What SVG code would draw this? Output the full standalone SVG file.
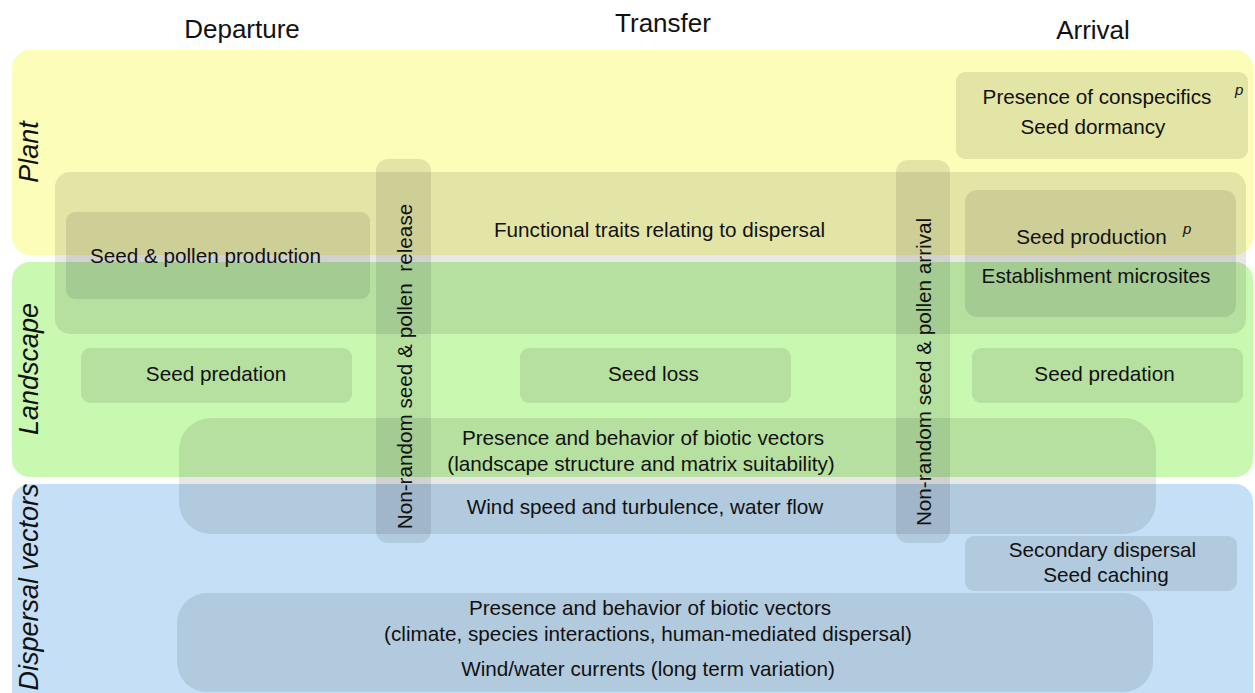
<svg xmlns="http://www.w3.org/2000/svg" width="1255" height="693" viewBox="0 0 1255 693">
<style>
text{font-family:"Liberation Sans",Arial,sans-serif;fill:#111;}
.h{font-size:26px;text-anchor:middle;}
.t{font-size:20.7px;text-anchor:middle;}
.lab{font-size:27px;font-style:italic;text-anchor:middle;}
.sup{font-size:15px;font-style:italic;}
.box{fill:#000;fill-opacity:0.095;}
</style>
<rect width="1255" height="693" fill="#fff"/>
<g id="headers">
<text class="h" x="242" y="38">Departure</text>
<text class="h" x="663" y="32">Transfer</text>
<text class="h" x="1093" y="39">Arrival</text>
</g>
<g id="band-plant">
<rect x="12" y="50" width="1241" height="205" rx="18" fill="#fbfdb8"/>
<text class="lab" transform="translate(38,152) rotate(-90)">Plant</text>
</g>
<g id="band-landscape">
<rect x="12" y="262" width="1241" height="215" rx="18" fill="#c9f8b1"/>
<text class="lab" transform="translate(38,369) rotate(-90)">Landscape</text>
</g>
<g id="band-vectors">
<rect x="12" y="484" width="1241" height="230" rx="18" fill="#c5dff6"/>
<text class="lab" transform="translate(38,587) rotate(-90)">Dispersal vectors</text>
</g>
<g id="functional-traits">
<rect class="box" x="55" y="172" width="1191" height="162" rx="15"/>
<text class="t" x="659.5" y="237">Functional traits relating to dispersal</text>
</g>
<g id="seed-pollen-production">
<rect class="box" x="66" y="212" width="304" height="87" rx="9"/>
<text class="t" x="205.5" y="263">Seed &amp; pollen production</text>
</g>
<g id="conspecifics">
<rect class="box" x="956" y="72" width="292" height="87" rx="9"/>
<text class="t" x="1097" y="104">Presence of conspecifics</text>
<text class="sup" x="1235" y="95">p</text>
<text class="t" x="1093" y="134">Seed dormancy</text>
</g>
<g id="seed-production">
<rect class="box" x="965" y="190" width="271" height="127" rx="12"/>
<text class="t" x="1091.5" y="244">Seed production</text>
<text class="sup" x="1183" y="234">p</text>
<text class="t" x="1096" y="283">Establishment microsites</text>
</g>
<g id="seed-predation-dep">
<rect class="box" x="81" y="348" width="271" height="55" rx="9"/>
<text class="t" x="216" y="381">Seed predation</text>
</g>
<g id="seed-loss">
<rect class="box" x="520" y="348" width="271" height="55" rx="9"/>
<text class="t" x="653.5" y="381">Seed loss</text>
</g>
<g id="seed-predation-arr">
<rect class="box" x="972" y="348" width="271" height="55" rx="9"/>
<text class="t" x="1104.5" y="381">Seed predation</text>
</g>
<g id="biotic-landscape">
<rect class="box" x="179" y="418" width="977" height="116" rx="32"/>
<text class="t" x="643" y="445">Presence and behavior of biotic vectors</text>
<text class="t" x="641" y="471">(landscape structure and matrix suitability)</text>
<text class="t" x="645" y="514">Wind speed and turbulence, water flow</text>
</g>
<g id="secondary-dispersal">
<rect class="box" x="965" y="536" width="272" height="55" rx="9"/>
<text class="t" x="1102.5" y="557">Secondary dispersal</text>
<text class="t" x="1106" y="582">Seed caching</text>
</g>
<g id="biotic-long-term">
<rect class="box" x="177" y="593" width="976" height="99" rx="30"/>
<text class="t" x="650" y="615">Presence and behavior of biotic vectors</text>
<text class="t" x="648" y="641">(climate, species interactions, human-mediated dispersal)</text>
<text class="t" x="648" y="676">Wind/water currents (long term variation)</text>
</g>
<g id="release-bar">
<rect class="box" x="376" y="159" width="55" height="384" rx="12"/>
<text class="t" transform="translate(412,366.5) rotate(-90)" xml:space="preserve">Non-random seed &amp; pollen  release</text>
</g>
<g id="arrival-bar">
<rect class="box" x="896" y="160" width="54" height="383" rx="12"/>
<text class="t" transform="translate(931,372) rotate(-90)">Non-random seed &amp; pollen arrival</text>
</g>
<g id="connectors"></g>
</svg>
